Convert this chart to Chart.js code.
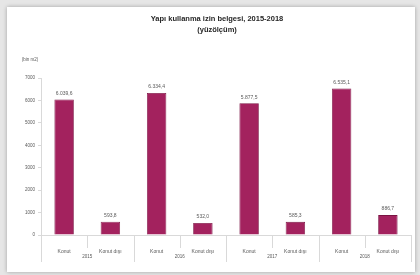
<!DOCTYPE html>
<html>
<head>
<meta charset="utf-8">
<script src="https://cdn.jsdelivr.net/npm/chart.js@4/dist/chart.umd.min.js"></script>
<style>
    html, body { margin: 0; padding: 0; background: #e6e6e6; width: 420px; height: 275px; overflow: hidden; }
    #card { position: absolute; left: 7px; top: 7px; width: 408px; height: 265px; background: #fff; box-shadow: 0 0 4px rgba(0,0,0,0.3); }
    canvas { display: block; }
</style>
</head>
<body>
<div id="card"><canvas id="chart" width="408" height="265"></canvas></div>
<script>
// Données du graphique
const years = ['2015', '2016', '2017', '2018'];
const types = ['Konut', 'Konut dışı'];
const values = [6039.6, 593.8, 6334.4, 532.0, 5877.5, 585.3, 6535.1, 886.7];
const valueLabels = ['6.039,6', '593,8', '6.334,4', '532,0', '5.877,5', '585,3', '6.535,1', '886,7'];
const yMax = 7000;
const yStep = 1000;

const titleLines = ['Yapı kullanma izin belgesi, 2015-2018', '(yüzölçüm)'];
const unitLabel = '(bin m2)';

const labels = [];
years.forEach(function () { types.forEach(function (t) { labels.push(t); }); });

const fontFamily = '"Liberation Sans", Arial, sans-serif';
const textColor = '#595959';
const lineColor = '#d9d9d9';

// Titre, unité, étiquettes de valeurs, années et séparateurs
const extras = {
    id: 'extras',
    afterDraw: function (chart) {
        const ctx = chart.ctx;
        const area = chart.chartArea;
        const x = chart.scales.x;
        ctx.save();

        // Titre
        ctx.fillStyle = '#262626';
        ctx.textAlign = 'center';
        ctx.textBaseline = 'middle';
        ctx.font = 'bold 7.5px ' + fontFamily;
        ctx.fillText(titleLines[0], 210, 12);
        ctx.fillText(titleLines[1], 210, 23);

        // Unité
        ctx.fillStyle = textColor;
        ctx.font = '4.5px ' + fontFamily;
        ctx.fillText(unitLabel, area.left - 11, area.top - 18);

        // Étiquettes de valeurs
        ctx.font = '5px ' + fontFamily;
        const meta = chart.getDatasetMeta(0);
        meta.data.forEach(function (bar, i) {
            ctx.fillText(valueLabels[i], bar.x, bar.y - 6);
        });

        // Séparateurs et années
        const half = (x.getPixelForValue(1) - x.getPixelForValue(0)) / 2;
        ctx.strokeStyle = lineColor;
        ctx.lineWidth = 1;
        for (let i = 0; i < labels.length; i++) {
            const edge = Math.round(x.getPixelForValue(i) + half) + 0.5;
            const long = (i % types.length) === types.length - 1;
            ctx.beginPath();
            ctx.moveTo(edge, area.bottom);
            ctx.lineTo(edge, area.bottom + (long ? 27 : 13));
            ctx.stroke();
        }
        const first = Math.round(x.getPixelForValue(0) - half) + 0.5;
        ctx.beginPath();
        ctx.moveTo(first, area.bottom);
        ctx.lineTo(first, area.bottom + 27);
        ctx.stroke();

        ctx.font = '4.5px ' + fontFamily;
        years.forEach(function (yr, g) {
            const cx = (x.getPixelForValue(g * 2) + x.getPixelForValue(g * 2 + 1)) / 2;
            ctx.fillText(yr, cx, area.bottom + 22);
        });
        ctx.restore();
    }
};

new Chart(document.getElementById('chart'), {
    type: 'bar',
    data: {
        labels: labels,
        datasets: [{
            data: values,
            backgroundColor: '#a3225e',
            borderColor: '#7a1443',
            borderWidth: 0.8,
            categoryPercentage: 1,
            barPercentage: 0.42
        }]
    },
    options: {
        responsive: false,
        animation: false,
        layout: { padding: { top: 71, right: 4, left: 0, bottom: 0 } },
        plugins: {
            legend: { display: false },
            tooltip: { enabled: false },
            title: { display: false }
        },
        scales: {
            x: {
                offset: true,
                grid: { display: false },
                border: { color: lineColor, width: 1 },
                ticks: {
                    color: textColor,
                    font: { family: fontFamily, size: 5 },
                    padding: 6,
                    maxRotation: 0,
                    autoSkip: false
                },
                afterFit: function (scale) { scale.height = 37; }
            },
            y: {
                min: 0,
                max: yMax,
                grid: { drawOnChartArea: false, color: lineColor, tickLength: 3 },
                border: { color: lineColor, width: 1 },
                ticks: {
                    stepSize: yStep,
                    color: textColor,
                    font: { family: fontFamily, size: 4.5 },
                    padding: 3,
                    callback: function (value) { return String(value); }
                },
                afterFit: function (scale) { scale.width = 34; }
            }
        }
    },
    plugins: [extras]
});
</script>
</body>
</html>
